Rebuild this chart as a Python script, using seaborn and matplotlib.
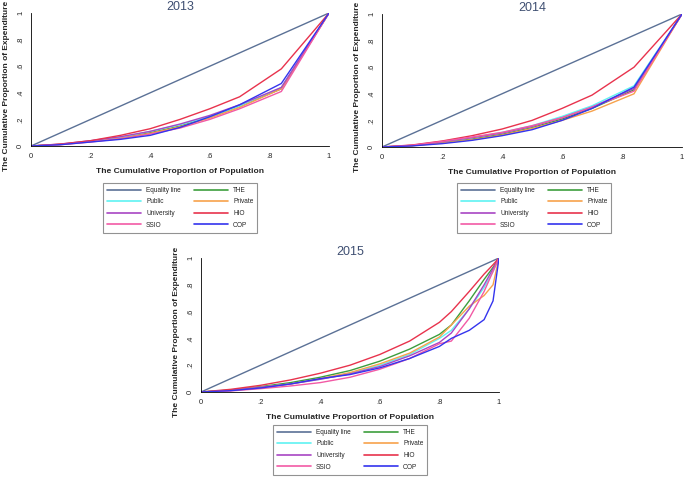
import numpy as np
import pandas as pd
import seaborn as sns
import matplotlib.pyplot as plt

# series names and colours
series = ["Equality line", "THE", "Public", "Private", "University", "HIO", "SSIO", "OOP"]
colors = ["#5b7196", "#3d9e3d", "#5ff2f2", "#f7a24c", "#a845c4", "#e8334d", "#f25aa5", "#3434ee"]

# 2013
x13 = [0, .1, .2, .3, .4, .5, .6, .7, .84, 1]
y13 = {
    "Equality line": x13,
    "THE":        [0, .012, .035, .06, .10, .15, .22, .30, .43, 1],
    "Public":     [0, .013, .038, .065, .11, .16, .22, .30, .44, 1],
    "Private":    [0, .011, .033, .058, .095, .145, .21, .29, .43, 1],
    "University": [0, .014, .040, .07, .11, .165, .23, .31, .44, 1],
    "HIO":        [0, .015, .040, .08, .13, .20, .28, .37, .58, 1],
    "SSIO":       [0, .010, .030, .055, .09, .135, .20, .28, .41, 1],
    "OOP":        [0, .010, .030, .05, .08, .14, .22, .31, .47, 1],
}

# 2014
x14 = [0, .1, .2, .3, .4, .5, .6, .7, .84, 1]
y14 = {
    "Equality line": x14,
    "THE":        [0, .010, .033, .06, .095, .145, .21, .29, .43, 1],
    "Public":     [0, .012, .040, .07, .11, .16, .23, .31, .46, 1],
    "Private":    [0, .009, .030, .055, .09, .14, .20, .27, .40, 1],
    "University": [0, .012, .040, .07, .105, .155, .22, .30, .44, 1],
    "HIO":        [0, .015, .045, .085, .135, .20, .29, .39, .60, 1],
    "SSIO":       [0, .013, .042, .075, .11, .16, .22, .30, .42, 1],
    "OOP":        [0, .008, .025, .05, .085, .13, .20, .29, .45, 1],
}

# 2015
x15 = [0, .1, .2, .3, .4, .5, .6, .7, .8, .84, .9, .95, .98, 1]
y15 = {
    "Equality line": x15,
    "THE":        [0, .015, .04, .07, .11, .16, .23, .32, .43, .50, .68, .84, .93, 1],
    "Public":     [0, .012, .035, .06, .095, .14, .20, .28, .40, .46, .62, .78, .90, 1],
    "Private":    [0, .012, .035, .06, .10, .145, .21, .29, .41, .50, .64, .72, .80, 1],
    "University": [0, .012, .035, .06, .095, .135, .19, .27, .37, .44, .62, .80, .92, 1],
    "HIO":        [0, .02, .05, .09, .14, .20, .28, .38, .52, .60, .75, .88, .95, 1],
    "SSIO":       [0, .008, .025, .045, .07, .11, .17, .25, .36, .38, .55, .75, .90, 1],
    "OOP":        [0, .01, .03, .06, .10, .13, .18, .25, .34, .40, .46, .54, .68, 1],
}


def to_long(x, ys):
    rows = []
    for name in series:
        for xi, yi in zip(x, ys[name]):
            rows.append((name, xi, yi))
    return pd.DataFrame(rows, columns=["series", "pop", "exp"])


sns.set_style("white")
plt.rcParams['font.family'] = ['Liberation Sans', 'DejaVu Sans']

fig = plt.figure(figsize=(6.85, 4.79), dpi=100)
palette = dict(zip(series, colors))

panels = [
    ("2013", x13, y13, [31/685, 1 - 146/479, 298/685, 133/479], (103, 183)),
    ("2014", x14, y14, [382/685, 1 - 147/479, 300/685, 133/479], (457, 183)),
    ("2015", x15, y15, [201/685, 1 - 392/479, 298/685, 134/479], (273, 425)),
]

for title, x, ys, rect, leg in panels:
    ax = fig.add_axes(rect)
    df = to_long(x, ys)
    sns.lineplot(data=df, x="pop", y="exp", hue="series", palette=palette,
                 hue_order=series, ax=ax, legend=False, linewidth=1.0,
                 estimator=None, sort=False)
    ax.set_xlim(0, 1)
    ax.set_ylim(0, 1)
    ticks = [0, .2, .4, .6, .8, 1]
    labels = ["0", ".2", ".4", ".6", ".8", "1"]
    ax.set_xticks(ticks)
    ax.set_xticklabels(labels, fontsize=5.5)
    ax.set_yticks(ticks)
    ax.set_yticklabels(labels, fontsize=5.5, rotation=90, va="center")
    ax.tick_params(direction="out", length=3, width=0.6, pad=2)
    for s in ["top", "right"]:
        ax.spines[s].set_visible(False)
    for s in ["left", "bottom"]:
        ax.spines[s].set_linewidth(0.6)
        ax.spines[s].set_color("black")
    ax.set_title(title, fontsize=9, color="#3f4f72", pad=2)
    ax.set_xlabel("The Cumulative Proportion of Population", fontsize=6.1,
                  fontweight="bold", labelpad=6)
    ax.set_ylabel("The Cumulative Proportion of Expenditure", fontsize=6.0,
                  fontweight="bold")
    # Stata puts the y title a bit lower than the plot centre
    ax.yaxis.set_label_coords(-21 / (rect[2] * 685), 0.45)

    handles = ax.get_lines()[:len(series)]
    order = [0, 2, 4, 6, 1, 3, 5, 7]
    lx, ly = leg
    lg = fig.legend([handles[i] for i in order], [series[i] for i in order],
                    ncol=2, loc="upper left",
                    bbox_to_anchor=(lx / 685, 1 - ly / 479),
                    fontsize=4.7, frameon=True, fancybox=False,
                    handlelength=5.2, handletextpad=0.8, columnspacing=2.0,
                    labelspacing=0.7, borderpad=0.6, borderaxespad=0)
    lg.get_frame().set_edgecolor("#777777")
    lg.get_frame().set_linewidth(0.8)
    for line in lg.get_lines():
        line.set_linewidth(1.2)

fig.savefig("out.png", dpi=100)
